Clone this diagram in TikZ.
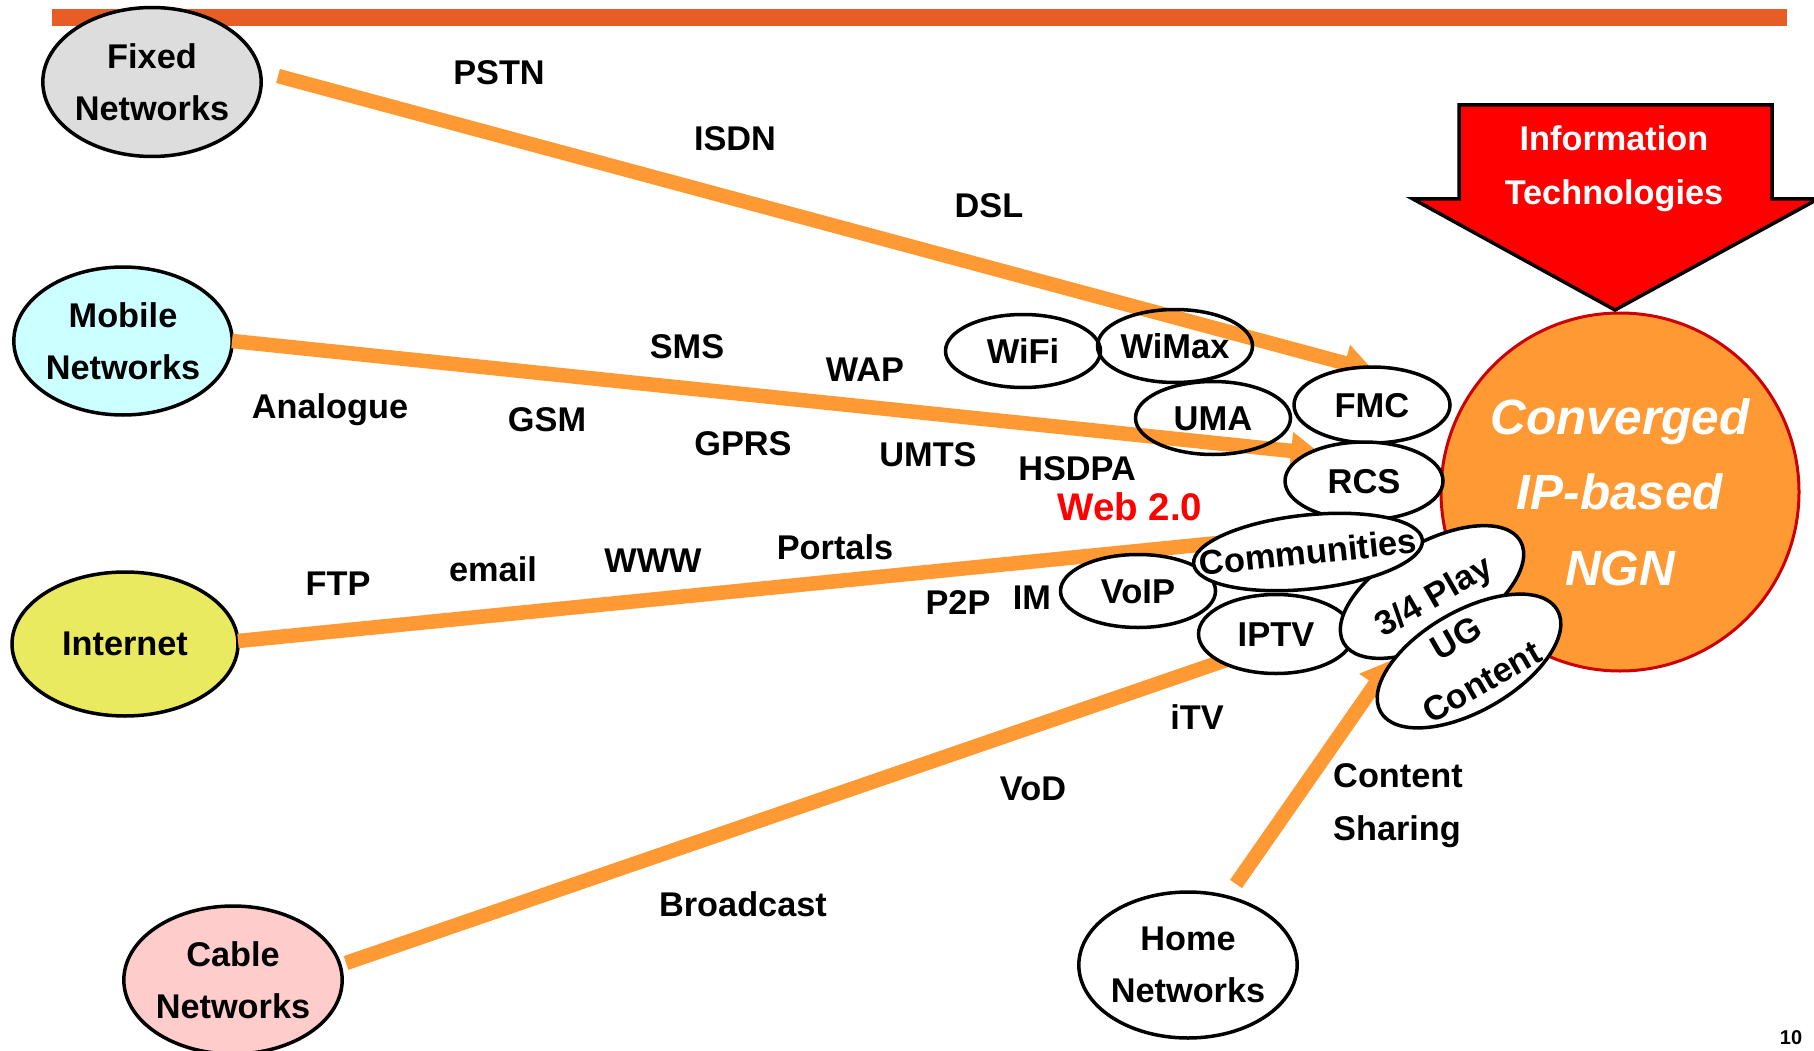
\documentclass[tikz,border=0pt]{standalone}
\usepackage{fontspec}
\setmainfont{Liberation Sans}
\usetikzlibrary{arrows.meta,shapes.geometric}
\definecolor{lineor}{RGB}{255,153,51}
\definecolor{barcol}{RGB}{232,93,37}
\definecolor{fixfill}{RGB}{221,221,221}
\definecolor{mobfill}{RGB}{204,255,255}
\definecolor{intfill}{RGB}{234,234,96}
\definecolor{cabfill}{RGB}{255,204,204}
\definecolor{ngnfill}{RGB}{255,153,51}
\definecolor{ngnedge}{RGB}{204,0,0}
\begin{document}
\begin{tikzpicture}[x=1pt,y=-1pt,
  ell/.style={ellipse, draw=black, line width=3.5pt, inner sep=0pt},
  bigell/.style={ell, minimum width=217pt, minimum height=148pt, align=center,
    font=\fontsize{34.3}{52}\selectfont\bfseries},
  smallell/.style={ell, fill=white, minimum width=155pt, minimum height=73pt},
  etxt/.style={font=\fontsize{34.5}{51}\selectfont\bfseries, inner sep=0pt, align=center},
  etxt1/.style={etxt, text height=24.6pt, text depth=0pt},
  lbl/.style={font=\fontsize{34.3}{40}\selectfont\bfseries, inner sep=0pt, text height=24.5pt, text depth=0pt},
  flow/.style={draw=lineor, line width=14.5pt},
  flowtip/.style={flow, -{Triangle[length=30pt,width=36pt]}},
]
\useasboundingbox (0,0) rectangle (1814,1051);
% top bar
\fill[barcol] (52,9) rectangle (1787,26);

% source networks
\node[bigell, fill=fixfill, minimum width=218pt, minimum height=149pt] (fixed) at (152,82) {Fixed\\Networks};
\node[bigell, fill=mobfill] (mobile) at (123,341) {Mobile\\Networks};
\node[bigell, fill=intfill, minimum width=226pt, minimum height=144pt] (internet) at (125,644) {Internet};
\node[bigell, fill=cabfill] (cable) at (233,980) {Cable\\Networks};
\node[bigell, fill=white, minimum width=215pt, minimum height=146pt] (home) at (1188,965) {Home\\Networks};

% converged NGN
\node[circle, draw=ngnedge, fill=ngnfill, line width=3pt, minimum size=358pt, inner sep=0pt,
  text=white, align=center, font=\fontsize{49.5}{75.5}\selectfont\bfseries\itshape]
  (ngn) at (1620,492) {Converged\\IP-based\\NGN};

% information technologies arrow
\draw[black, line width=3.5pt, fill=red] (1459,105) -- (1772,105) -- (1772,199) -- (1818,199)
  -- (1615,310) -- (1413,199) -- (1459,199) -- cycle;
\node[text=white, align=center, inner sep=0pt, font=\fontsize{34.3}{54}\selectfont\bfseries]
  (itech) at (1614,169) {Information\\Technologies};

% connector end points
\coordinate (fixOut) at (278,76);
\coordinate (fmcIn) at (1374,371);
\coordinate (mobOut) at (232,341);
\coordinate (rcsIn) at (1321,454);
\coordinate (intOut) at (238,641);
\coordinate (comIn) at (1218,543);
\coordinate (cabOut) at (346,963);
\coordinate (iptvIn) at (1235,657);
\coordinate (homeOut) at (1236,884);
\coordinate (ugIn) at (1392,660);

\draw[flowtip] (fixOut) -- (fmcIn);
\draw[flowtip] (mobOut) -- (rcsIn);
\draw[flow] (intOut) -- (comIn);
\draw[flow] (cabOut) -- (iptvIn);
\draw[flowtip] (homeOut) -- (ugIn);

% technology ellipses
\node[smallell] (wifi) at (1023,351) {};
\node[smallell, fill=none] (wimax) at (1175,346) {};
\node[smallell, fill=none] (uma) at (1213,418) {};
\node[smallell, minimum width=156pt, minimum height=76pt] (fmc) at (1372,405) {};
\node[smallell, minimum width=158pt, minimum height=78pt] (rcs) at (1364,481) {};
\node[smallell] (voip) at (1138,591) {};
\node[smallell, minimum height=79pt] (iptv) at (1276,634) {};
\node[smallell, minimum width=204pt, minimum height=98pt, rotate=30] (play) at (1432,592) {};
\node[smallell, minimum width=204pt, minimum height=100pt, rotate=30] (ugc) at (1469,661) {};
\node[smallell, minimum width=230pt, minimum height=74pt, rotate=6] (comm) at (1308,552) {};

\node[etxt1] (t-wifi) at (wifi) {WiFi};
\node[etxt1] (t-wimax) at (wimax) {WiMax};
\node[etxt1] (t-uma) at (uma) {UMA};
\node[etxt1] (t-fmc) at (fmc) {FMC};
\node[etxt1] (t-rcs) at (rcs) {RCS};
\node[etxt1] (t-voip) at (voip) {VoIP};
\node[etxt1] (t-iptv) at (iptv) {IPTV};
\node[etxt1, rotate=30] (t-play) at (1433,595) {3/4 Play};
\node[etxt, rotate=30] (t-ugc) at (1469,660) {UG\\Content};
\node[etxt1, rotate=6] (t-comm) at (comm) {Communities};

% labels
\node[lbl] (l-pstn) at (499,72) {PSTN};
\node[lbl] (l-isdn) at (735,138) {ISDN};
\node[lbl] (l-dsl) at (989,205) {DSL};
\node[lbl] (l-sms) at (687,346) {SMS};
\node[lbl] (l-wap) at (865,369) {WAP};
\node[lbl] (l-analogue) at (330,406) {Analogue};
\node[lbl] (l-gsm) at (547,419) {GSM};
\node[lbl] (l-gprs) at (743,443) {GPRS};
\node[lbl] (l-umts) at (928,454) {UMTS};
\node[lbl] (l-hsdpa) at (1077,468) {HSDPA};
\node[lbl, text=red, font=\fontsize{38.5}{44}\selectfont\bfseries, text height=27.6pt] (l-web) at (1130,507) {Web 2.0};
\node[lbl] (l-ftp) at (338,583) {FTP};
\node[lbl] (l-email) at (493,569) {email};
\node[lbl] (l-www) at (653,560) {WWW};
\node[lbl] (l-portals) at (835,547) {Portals};
\node[lbl] (l-p2p) at (958,602) {P2P};
\node[lbl] (l-im) at (1032,597) {IM};
\node[lbl] (l-itv) at (1197,717) {iTV};
\node[lbl] (l-vod) at (1033,788) {VoD};
\node[lbl] (l-broadcast) at (743,904) {Broadcast};
\node[lbl] (l-content) at (1398,775) {Content};
\node[lbl] (l-sharing) at (1397,828) {Sharing};
\node[font=\fontsize{20}{24}\selectfont\bfseries, inner sep=0pt] (pg) at (1791,1038) {10};
\end{tikzpicture}
\end{document}
